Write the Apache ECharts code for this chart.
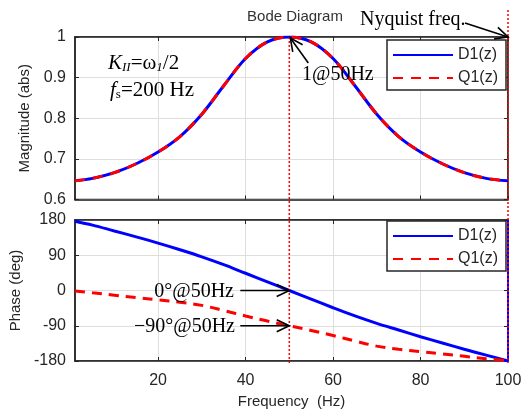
<!DOCTYPE html>
<html>
<head>
<meta charset="utf-8">
<script src="https://cdn.jsdelivr.net/npm/echarts@6/dist/echarts.min.js"></script>
<style>
html,body{margin:0;padding:0;background:#fff;}
#c{width:530px;height:412px;}
</style>
</head>
<body>
<div id="c"></div>
<script>
// ---- data ----
const freq   = [1, 5, 10, 15, 20, 25, 30, 35, 40, 45, 50, 55, 60, 65, 70, 75, 80, 85, 90, 95, 100];
const magD   = [0.646, 0.652, 0.666, 0.688, 0.717, 0.755, 0.810, 0.880, 0.947, 0.988, 1.0, 0.988, 0.947, 0.880, 0.810, 0.755, 0.717, 0.688, 0.666, 0.652, 0.646];
const magQ   = [0.646, 0.652, 0.666, 0.688, 0.717, 0.755, 0.810, 0.880, 0.947, 0.988, 1.0, 0.988, 0.947, 0.880, 0.810, 0.755, 0.717, 0.688, 0.666, 0.652, 0.646];
const phaseD = [177, 167, 152, 137, 121, 104, 86, 66, 44, 22, 0, -22, -44, -65, -84, -101, -118, -134, -150, -165, -180];
const phaseQ = [-1, -6, -12, -18, -24, -30, -38, -51, -65, -78, -90, -102, -115, -129, -142, -150, -156, -162, -168, -174, -179];
const phaseWrapF = [100, 100];
const phaseWrapD = [-180, 180];
const xTicks = [20, 40, 60, 80, 100];
const markF = [50, 100];

const zip = (a, b) => a.map((v, i) => [v, b[i]]);
const BLUE = '#0000ff', RED = '#ff0000', INK = '#262626';
const SANS = 'Liberation Sans, Arial, sans-serif';
const SERIF = 'Liberation Serif, Times New Roman, serif';

const chart = echarts.init(document.getElementById('c'), null, {renderer: 'canvas'});

function xAx(grid, pos, labels, name) {
  return {
    type: 'value', gridIndex: grid, position: pos, min: 1, max: 100,
    axisLine: {show: true, onZero: false, lineStyle: {color: INK, width: 1.5}},
    axisTick: {show: true, inside: true, length: 4, customValues: xTicks, lineStyle: {color: INK}},
    axisLabel: {show: labels, customValues: xTicks, fontSize: 16, color: INK, fontFamily: SANS, margin: 12},
    splitLine: {show: pos === 'bottom', lineStyle: {color: '#dedede', width: 1}},
    name: name || '', nameLocation: 'middle', nameGap: 33,
    nameTextStyle: {fontSize: 15, color: INK, fontFamily: SANS}
  };
}
function yAx(grid, pos, min, max, interval, labels, name, gap) {
  return {
    type: 'value', gridIndex: grid, position: pos, min: min, max: max, interval: interval,
    axisLine: {show: true, onZero: false, lineStyle: {color: INK, width: 1.5}},
    axisTick: {show: true, inside: true, length: 4, lineStyle: {color: INK}},
    axisLabel: {show: labels, fontSize: 16, color: INK, fontFamily: SANS, margin: 9},
    splitLine: {show: pos === 'left', lineStyle: {color: '#dedede', width: 1}},
    name: name || '', nameLocation: 'middle', nameGap: gap || 0,
    nameTextStyle: {fontSize: 15, color: INK, fontFamily: SANS}
  };
}

const lineCommon = {type: 'line', symbol: 'none', smooth: 0.35, z: 3};
const legendCommon = {
  data: ['D1(z)', 'Q1(z)'], orient: 'vertical', left: 387,
  itemWidth: 60, itemHeight: 16, itemGap: 7, padding: [7, 8, 4, 5],
  backgroundColor: '#fff', borderColor: INK, borderWidth: 1.5, borderRadius: 0,
  itemStyle: {opacity: 0},
  textStyle: {fontSize: 16, color: INK, fontFamily: SANS}, selectedMode: false
};

const option = {
  animation: false,
  backgroundColor: '#fff',
  title: {
    text: 'Bode Diagram', left: 290, top: 4, textAlign: 'center',
    textStyle: {fontSize: 15, fontWeight: 'normal', color: '#333', fontFamily: SANS}
  },
  grid: [
    {left: 75, right: 22, top: 37, height: 162.5, show: true, borderColor: INK, borderWidth: 1.5, backgroundColor: '#fff'},
    {left: 75, right: 22, top: 220, height: 141, show: true, borderColor: INK, borderWidth: 1.5, backgroundColor: '#fff'}
  ],
  xAxis: [
    xAx(0, 'bottom', false),
    xAx(1, 'bottom', true, 'Frequency  (Hz)'),
    xAx(0, 'top', false),
    xAx(1, 'top', false)
  ],
  yAxis: [
    yAx(0, 'left', 0.6, 1, 0.1, true, 'Magnitude (abs)', 37),
    yAx(1, 'left', -180, 180, 90, true, 'Phase (deg)', 47),
    yAx(0, 'right', 0.6, 1, 0.1, false),
    yAx(1, 'right', -180, 180, 90, false)
  ],
  legend: [
    Object.assign({}, legendCommon, {top: 40}),
    Object.assign({}, legendCommon, {top: 221})
  ],
  series: [
    Object.assign({}, lineCommon, {name: 'D1(z)', xAxisIndex: 0, yAxisIndex: 0, data: zip(freq, magD),
      lineStyle: {color: BLUE, width: 3}, itemStyle: {color: BLUE}}),
    Object.assign({}, lineCommon, {name: 'Q1(z)', xAxisIndex: 0, yAxisIndex: 0, data: zip(freq, magQ), z: 4,
      lineStyle: {color: RED, width: 3, type: [10, 8]}, itemStyle: {color: RED}}),
    Object.assign({}, lineCommon, {name: 'D1(z)', xAxisIndex: 1, yAxisIndex: 1, data: zip(freq, phaseD),
      lineStyle: {color: BLUE, width: 3}, itemStyle: {color: BLUE}}),
    Object.assign({}, lineCommon, {name: 'Q1(z)', xAxisIndex: 1, yAxisIndex: 1, data: zip(freq, phaseQ), z: 4,
      lineStyle: {color: RED, width: 3, type: [10, 7]}, itemStyle: {color: RED}}),
    Object.assign({}, lineCommon, {name: 'D1(z)', xAxisIndex: 1, yAxisIndex: 1, data: zip(phaseWrapF, phaseWrapD), smooth: false,
      lineStyle: {color: BLUE, width: 2}, itemStyle: {color: BLUE}})
  ]
};
chart.setOption(option);

// ---- annotations placed through the axes' own scales ----
const p0 = (x, y) => chart.convertToPixel({xAxisIndex: 0, yAxisIndex: 0}, [x, y]);
const p1 = (x, y) => chart.convertToPixel({xAxisIndex: 1, yAxisIndex: 1}, [x, y]);

function arrow(x1, y1, x2, y2) {
  const a = Math.atan2(y2 - y1, x2 - x1), L = 14, w = 0.45;
  const h1 = [x2 - L * Math.cos(a - w), y2 - L * Math.sin(a - w)];
  const h2 = [x2 - L * Math.cos(a + w), y2 - L * Math.sin(a + w)];
  return [
    {type: 'line', z: 50, shape: {x1: x1, y1: y1, x2: x2, y2: y2}, style: {stroke: '#000', lineWidth: 1.6}},
    {type: 'polyline', z: 50, shape: {points: [h1, [x2, y2], h2]}, style: {stroke: '#000', lineWidth: 1.6, fill: null}}
  ];
}

const topTop = p0(50, 1)[1];
const botBot = p1(50, -180)[1];
const x50 = p0(markF[0], 1)[0];
const x100 = p0(markF[1], 1)[0];
const peak = p0(50, 1);
const nyq = p0(100, 1);
const ph0 = p1(50, 0);
const ph90 = p1(50, -90);

const g = [];
g.push({type: 'line', z: 40, shape: {x1: x50, y1: topTop, x2: x50, y2: botBot + 2}, style: {stroke: RED, lineWidth: 1.5, lineDash: [2, 2]}});
g.push({type: 'line', z: 40, shape: {x1: x100, y1: 10, x2: x100, y2: botBot + 2}, style: {stroke: RED, lineWidth: 1.5, lineDash: [2, 2]}});

g.push({type: 'text', z: 50, x: 108, y: 50, style: {
  text: '{i|K}{is|II}{n|=ω}{is|1}{n|/2}', fontFamily: SERIF,
  rich: {
    i: {fontFamily: SERIF, fontSize: 21, fontStyle: 'italic', fill: '#000', verticalAlign: 'bottom', lineHeight: 24},
    is: {fontFamily: SERIF, fontSize: 13, fontStyle: 'italic', fill: '#000', verticalAlign: 'bottom', lineHeight: 22},
    n: {fontFamily: SERIF, fontSize: 21, fill: '#000', verticalAlign: 'bottom', lineHeight: 24}
  }}});
g.push({type: 'text', z: 50, x: 110, y: 77, style: {
  text: '{i|f}{s|s}{n|=200 Hz}', fontFamily: SERIF,
  rich: {
    i: {fontFamily: SERIF, fontSize: 21, fontStyle: 'italic', fill: '#000', verticalAlign: 'bottom', lineHeight: 24},
    s: {fontFamily: SERIF, fontSize: 13, fill: '#000', verticalAlign: 'bottom', lineHeight: 22},
    n: {fontFamily: SERIF, fontSize: 21, fill: '#000', verticalAlign: 'bottom', lineHeight: 24}
  }}});

g.push({type: 'text', z: 50, x: 302, y: 75, style: {text: '1@50Hz', fontFamily: SERIF, fontSize: 20, fill: '#000', verticalAlign: 'middle'}});
g.push(...arrow(peak[0] + 19, peak[1] + 26, peak[0] + 1, peak[1] + 1));

g.push({type: 'text', z: 50, x: 360, y: 20, style: {text: 'Nyquist freq.', fontFamily: SERIF, fontSize: 20, fill: '#000', verticalAlign: 'middle'}});
g.push(...arrow(nyq[0] - 43, nyq[1] - 14, nyq[0], nyq[1]));

g.push({type: 'text', z: 50, x: 234, y: ph0[1] + 1, style: {text: '0°@50Hz', fontFamily: SERIF, fontSize: 20, fill: '#000', align: 'right', verticalAlign: 'middle'}});
g.push(...arrow(ph0[0] - 49, ph0[1], ph0[0], ph0[1]));
g.push({type: 'text', z: 50, x: 235, y: ph90[1] + 1, style: {text: '\u221290°@50Hz', fontFamily: SERIF, fontSize: 20, fill: '#000', align: 'right', verticalAlign: 'middle'}});
g.push(...arrow(ph90[0] - 49, ph90[1], ph90[0], ph90[1]));

chart.setOption({graphic: g});
</script>
</body>
</html>
